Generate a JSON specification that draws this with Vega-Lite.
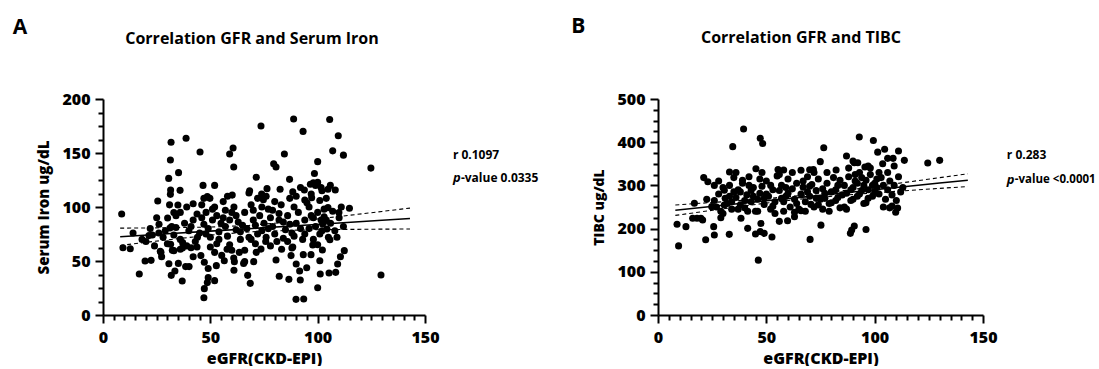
{
"$schema": "https://vega.github.io/schema/vega-lite/v6.json",
"background": "white",
"padding": {"left": 12, "top": 16, "right": 0, "bottom": 0},
"bounds": "flush",
"spacing": 233,
"config": {
  "view": {"stroke": null},
  "font": "Open Sans",
  "axis": {"domainColor": "black", "domainWidth": 2, "tickColor": "black", "tickWidth": 2, "labelFont": "Open Sans", "labelFontWeight": 800, "labelFontSize": 16, "labelColor": "black", "titleFont": "Open Sans", "titleFontWeight": 800, "titleFontSize": 16, "titleColor": "black", "grid": false, "labelFlush": false, "labelPadding": 5}
},
"datasets": {
  "iron": [
    {"egfr":88.8,"iron":181.5},{"egfr":105.6,"iron":181},{"egfr":73.6,"iron":175},{"egfr":93.2,"iron":170},{"egfr":109.6,"iron":166},{"egfr":38.7,"iron":163.6},{"egfr":31.7,"iron":160},{"egfr":60.6,"iron":154.6},{"egfr":59,"iron":149},{"egfr":45.2,"iron":151},{"egfr":107,"iron":152},{"egfr":112,"iron":148},{"egfr":84.5,"iron":149},{"egfr":31.4,"iron":143.5},{"egfr":60.9,"iron":137},{"egfr":79.5,"iron":140},{"egfr":80.6,"iron":137},{"egfr":100,"iron":142},{"egfr":98.5,"iron":131},{"egfr":124.8,"iron":136},{"egfr":129.5,"iron":37},{"egfr":35.2,"iron":131.8},{"egfr":30.6,"iron":126.5},{"egfr":71.4,"iron":127.5},{"egfr":86.9,"iron":125.6},{"egfr":46.6,"iron":120},{"egfr":52,"iron":120},{"egfr":31.5,"iron":115.7},{"egfr":35.9,"iron":115.4},{"egfr":31.4,"iron":111.7},{"egfr":25.5,"iron":105.6},{"egfr":60.2,"iron":111},{"egfr":68.3,"iron":115},{"egfr":76.4,"iron":117},{"egfr":82.5,"iron":116.4},{"egfr":88.4,"iron":114},{"egfr":93.8,"iron":115.7},{"egfr":96.6,"iron":121},{"egfr":98,"iron":122.5},{"egfr":100,"iron":122.8},{"egfr":101.6,"iron":118},{"egfr":105.9,"iron":120},{"egfr":108.2,"iron":115.7},{"egfr":104.8,"iron":116.4},{"egfr":48.6,"iron":109.6},{"egfr":49.8,"iron":108},{"egfr":73.9,"iron":112},{"egfr":74.7,"iron":106.8},{"egfr":94,"iron":106.5},{"egfr":97.2,"iron":108.6},{"egfr":34.9,"iron":101.9},{"egfr":30.1,"iron":89.8},{"egfr":33,"iron":94.8},{"egfr":8.7,"iron":93.5},{"egfr":104.8,"iron":99.4},{"egfr":114.8,"iron":98.8},{"egfr":109.9,"iron":94.8},{"egfr":42,"iron":103},{"egfr":43.8,"iron":93.5},{"egfr":26.1,"iron":84},{"egfr":31.2,"iron":80.5},{"egfr":21.4,"iron":73.5},{"egfr":14,"iron":76},{"egfr":18.2,"iron":70},{"egfr":23,"iron":74},{"egfr":9.3,"iron":62.3},{"egfr":12.7,"iron":61.4},{"egfr":19.6,"iron":50},{"egfr":22.4,"iron":50.6},{"egfr":16.9,"iron":38},{"egfr":26.7,"iron":59},{"egfr":27.3,"iron":54},{"egfr":30.7,"iron":47.5},{"egfr":31.5,"iron":65.4},{"egfr":32.3,"iron":60},{"egfr":33,"iron":59.6},{"egfr":31.8,"iron":36.7},{"egfr":33.5,"iron":40.7},{"egfr":35.1,"iron":47.8},{"egfr":36.9,"iron":31.5},{"egfr":38.5,"iron":44.8},{"egfr":40.1,"iron":44.8},{"egfr":36,"iron":60.8},{"egfr":37.1,"iron":67},{"egfr":39,"iron":64},{"egfr":41,"iron":62.3},{"egfr":43.8,"iron":63},{"egfr":42,"iron":54},{"egfr":45.6,"iron":55},{"egfr":47.2,"iron":48.8},{"egfr":49,"iron":43},{"egfr":49,"iron":34.6},{"egfr":47.2,"iron":24.4},{"egfr":47,"iron":16},{"egfr":48.6,"iron":30},{"egfr":52,"iron":31.8},{"egfr":52.8,"iron":45.7},{"egfr":55.3,"iron":55.2},{"egfr":56.5,"iron":50.3},{"egfr":57.8,"iron":60.8},{"egfr":60.9,"iron":52.8},{"egfr":61,"iron":41.4},{"egfr":61.2,"iron":49.4},{"egfr":63.5,"iron":58},{"egfr":65.5,"iron":47.8},{"egfr":66,"iron":49.4},{"egfr":67.4,"iron":36.7},{"egfr":68.6,"iron":29.3},{"egfr":70.2,"iron":49.4},{"egfr":71.4,"iron":58},{"egfr":73.6,"iron":61},{"egfr":75.8,"iron":68},{"egfr":80.6,"iron":51},{"egfr":82.1,"iron":35.8},{"egfr":83.2,"iron":60.8},{"egfr":86.6,"iron":33},{"egfr":87.6,"iron":55},{"egfr":88.4,"iron":63},{"egfr":90,"iron":47.2},{"egfr":91.6,"iron":40.7},{"egfr":91.9,"iron":32.4},{"egfr":89.9,"iron":14.5},{"egfr":93.5,"iron":14.8},{"egfr":94.9,"iron":43.8},{"egfr":93.3,"iron":55.9},{"egfr":96.9,"iron":55.9},{"egfr":97.7,"iron":64.8},{"egfr":100,"iron":25.3},{"egfr":101,"iron":50.3},{"egfr":101.2,"iron":38},{"egfr":102.2,"iron":60.2},{"egfr":105.3,"iron":38.9},{"egfr":108.4,"iron":39.5},{"egfr":109.3,"iron":47.2},{"egfr":110.6,"iron":54},{"egfr":112.4,"iron":59.6},{"egfr":105.7,"iron":69.7},{"egfr":104.3,"iron":79.6},{"egfr":102.3,"iron":84.3},{"egfr":103,"iron":91},{"egfr":101.6,"iron":88},
    {"egfr":36,"iron":70},{"egfr":38,"iron":85},{"egfr":40,"iron":78},{"egfr":42,"iron":88},{"egfr":44,"iron":72},{"egfr":36,"iron":95},{"egfr":39,"iron":100},{"egfr":41,"iron":82},{"egfr":43,"iron":68},{"egfr":45,"iron":76},{"egfr":37,"iron":62},{"egfr":34,"iron":81},{"egfr":33,"iron":74},{"egfr":46,"iron":90},{"egfr":47,"iron":84},
    {"egfr":48,"iron":95},{"egfr":49,"iron":80},{"egfr":50,"iron":72},{"egfr":51,"iron":88},{"egfr":52,"iron":100},{"egfr":53,"iron":66},{"egfr":54,"iron":77},{"egfr":46,"iron":102},{"egfr":47,"iron":108},{"egfr":50,"iron":63},{"egfr":52,"iron":58},{"egfr":53,"iron":92},{"egfr":55,"iron":85},{"egfr":54,"iron":70},{"egfr":48,"iron":75},{"egfr":51,"iron":98},
    {"egfr":56,"iron":90},{"egfr":57,"iron":82},{"egfr":58,"iron":73},{"egfr":59,"iron":65},{"egfr":60,"iron":95},{"egfr":61,"iron":100},{"egfr":62,"iron":79},{"egfr":63,"iron":86},{"egfr":64,"iron":70},{"egfr":56,"iron":105},{"egfr":58,"iron":110},{"egfr":60,"iron":60},{"egfr":62,"iron":92},{"egfr":64,"iron":77},{"egfr":65,"iron":83},{"egfr":57,"iron":97},{"egfr":59,"iron":88},
    {"egfr":66,"iron":95},{"egfr":67,"iron":80},{"egfr":68,"iron":72},{"egfr":69,"iron":102},{"egfr":70,"iron":88},{"egfr":71,"iron":66},{"egfr":72,"iron":108},{"egfr":73,"iron":92},{"egfr":74,"iron":78},{"egfr":75,"iron":85},{"egfr":66,"iron":60},{"egfr":68,"iron":113},{"egfr":70,"iron":97},{"egfr":72,"iron":75},{"egfr":74,"iron":100},{"egfr":69,"iron":70},{"egfr":71,"iron":83},
    {"egfr":76,"iron":110},{"egfr":77,"iron":98},{"egfr":78,"iron":90},{"egfr":79,"iron":82},{"egfr":80,"iron":75},{"egfr":81,"iron":68},{"egfr":82,"iron":94},{"egfr":83,"iron":102},{"egfr":84,"iron":86},{"egfr":85,"iron":79},{"egfr":76,"iron":72},{"egfr":78,"iron":64},{"egfr":80,"iron":105},{"egfr":82,"iron":88},{"egfr":84,"iron":71},{"egfr":77,"iron":80},{"egfr":79,"iron":97},
    {"egfr":86,"iron":92},{"egfr":87,"iron":84},{"egfr":88,"iron":76},{"egfr":89,"iron":100},{"egfr":90,"iron":110},{"egfr":91,"iron":95},{"egfr":92,"iron":80},{"egfr":93,"iron":70},{"egfr":94,"iron":88},{"egfr":95,"iron":104},{"egfr":86,"iron":68},{"egfr":88,"iron":62},{"egfr":90,"iron":85},{"egfr":92,"iron":118},{"egfr":94,"iron":75},{"egfr":87,"iron":108},{"egfr":89,"iron":73},
    {"egfr":96,"iron":100},{"egfr":97,"iron":112},{"egfr":98,"iron":90},{"egfr":99,"iron":82},{"egfr":100,"iron":95},{"egfr":101,"iron":106},{"egfr":102,"iron":78},{"egfr":103,"iron":98},{"egfr":104,"iron":88},{"egfr":105,"iron":72},{"egfr":96,"iron":80},{"egfr":98,"iron":70},{"egfr":100,"iron":65},{"egfr":102,"iron":115},{"egfr":104,"iron":108},{"egfr":97,"iron":92},{"egfr":99,"iron":120},{"egfr":101,"iron":75},
    {"egfr":106,"iron":85},{"egfr":108,"iron":78},{"egfr":110,"iron":90},{"egfr":112,"iron":82},{"egfr":107,"iron":96},{"egfr":109,"iron":72},{"egfr":111,"iron":100},
    {"egfr":20,"iron":68},{"egfr":22,"iron":80},{"egfr":24,"iron":64},{"egfr":26,"iron":76},{"egfr":28,"iron":72},{"egfr":30,"iron":66},{"egfr":32,"iron":82},{"egfr":34,"iron":92},{"egfr":25,"iron":90},{"egfr":29,"iron":78},{"egfr":31,"iron":102},{"egfr":27,"iron":58}
  ],
  "ironfit": [
    {"egfr":8,"fit":72.4,"lo":64.4,"hi":80.4},{"egfr":30,"fit":75.2,"lo":69.6,"hi":80.8},{"egfr":50,"fit":77.7,"lo":74.0,"hi":81.4},{"egfr":68,"fit":79.9,"lo":76.9,"hi":82.9},{"egfr":90,"fit":82.7,"lo":78.6,"hi":86.7},{"egfr":110,"fit":85.2,"lo":79.2,"hi":91.2},{"egfr":130,"fit":87.7,"lo":79.5,"hi":95.9},{"egfr":143,"fit":89.3,"lo":79.6,"hi":99.0}
  ],
  "tibc": [
    {"egfr":39.5,"tibc":430.6},{"egfr":46.3,"tibc":127},{"egfr":9.5,"tibc":160},{"egfr":8.8,"tibc":210},{"egfr":12.9,"tibc":204.5},{"egfr":22,"tibc":174},{"egfr":21.1,"tibc":318},{"egfr":23,"tibc":308.6},{"egfr":22.5,"tibc":267.7},{"egfr":34.5,"tibc":389.7},{"egfr":47.2,"tibc":409},{"egfr":48.3,"tibc":397},{"egfr":92.9,"tibc":412},{"egfr":99.4,"tibc":404},{"egfr":76.5,"tibc":387},{"egfr":87,"tibc":368},{"egfr":101.4,"tibc":377},{"egfr":104.6,"tibc":383.5},{"egfr":111,"tibc":379.6},{"egfr":113.7,"tibc":358},{"egfr":106,"tibc":362.6},{"egfr":108.5,"tibc":362.6},{"egfr":90,"tibc":356.5},{"egfr":90.6,"tibc":352.6},{"egfr":92.2,"tibc":352.6},{"egfr":74.9,"tibc":355},{"egfr":33,"tibc":331},{"egfr":45.2,"tibc":338.7},{"egfr":70,"tibc":336.4},{"egfr":71.7,"tibc":337},{"egfr":55.4,"tibc":337},{"egfr":58,"tibc":335.6},{"egfr":82.2,"tibc":335.6},{"egfr":95.5,"tibc":342.6},{"egfr":97,"tibc":345},{"egfr":103.7,"tibc":350},{"egfr":109,"tibc":345},{"egfr":106.9,"tibc":248},{"egfr":110.6,"tibc":247.7},{"egfr":109.7,"tibc":237.7},{"egfr":20.6,"tibc":220},{"egfr":25.7,"tibc":204.5},{"egfr":26,"tibc":185},{"egfr":32.9,"tibc":186.7},{"egfr":41.4,"tibc":200.6},{"egfr":45,"tibc":187.5},{"egfr":47.2,"tibc":193},{"egfr":49,"tibc":189},{"egfr":52.6,"tibc":180.6},{"egfr":70.2,"tibc":175},{"egfr":75.2,"tibc":208},{"egfr":88.8,"tibc":189},{"egfr":89.4,"tibc":196.8},{"egfr":90.6,"tibc":206},{"egfr":96,"tibc":198},{"egfr":66,"tibc":241.5},{"egfr":70.6,"tibc":256},{"egfr":63,"tibc":227.6},{"egfr":56,"tibc":216.8},{"egfr":59.8,"tibc":218},{"egfr":38.3,"tibc":223.8},{"egfr":41.4,"tibc":240},{"egfr":47.5,"tibc":212},{"egfr":29,"tibc":225},{"egfr":30.6,"tibc":254.6},{"egfr":16.8,"tibc":258.5},{"egfr":18,"tibc":223.8},{"egfr":19.8,"tibc":223.8},{"egfr":16,"tibc":223.8},{"egfr":24.8,"tibc":250.8},{"egfr":30.6,"tibc":289},{"egfr":124.5,"tibc":352},{"egfr":130,"tibc":358},
    {"egfr":26,"tibc":265},{"egfr":27,"tibc":250},{"egfr":28,"tibc":280},{"egfr":29,"tibc":240},{"egfr":30,"tibc":295},{"egfr":31,"tibc":270},{"egfr":32,"tibc":258},{"egfr":33,"tibc":300},{"egfr":34,"tibc":245},{"egfr":35,"tibc":285},{"egfr":28,"tibc":310},{"egfr":33,"tibc":275},{"egfr":35,"tibc":318},{"egfr":30,"tibc":235},{"egfr":26,"tibc":300},{"egfr":34,"tibc":262},
    {"egfr":36,"tibc":272},{"egfr":37,"tibc":290},{"egfr":38,"tibc":255},{"egfr":39,"tibc":305},{"egfr":40,"tibc":248},{"egfr":41,"tibc":278},{"egfr":42,"tibc":320},{"egfr":43,"tibc":262},{"egfr":44,"tibc":295},{"egfr":45,"tibc":240},{"egfr":36,"tibc":330},{"egfr":38,"tibc":285},{"egfr":40,"tibc":265},{"egfr":42,"tibc":300},{"egfr":44,"tibc":275},{"egfr":37,"tibc":245},{"egfr":39,"tibc":312},{"egfr":43,"tibc":288},
    {"egfr":46,"tibc":268},{"egfr":47,"tibc":282},{"egfr":48,"tibc":298},{"egfr":49,"tibc":256},{"egfr":50,"tibc":310},{"egfr":51,"tibc":275},{"egfr":52,"tibc":245},{"egfr":53,"tibc":290},{"egfr":54,"tibc":262},{"egfr":55,"tibc":322},{"egfr":46,"tibc":240},{"egfr":48,"tibc":330},{"egfr":50,"tibc":280},{"egfr":52,"tibc":300},{"egfr":54,"tibc":235},{"egfr":47,"tibc":315},{"egfr":49,"tibc":270},{"egfr":53,"tibc":252},
    {"egfr":56,"tibc":288},{"egfr":57,"tibc":300},{"egfr":58,"tibc":262},{"egfr":59,"tibc":275},{"egfr":60,"tibc":315},{"egfr":61,"tibc":250},{"egfr":62,"tibc":292},{"egfr":63,"tibc":268},{"egfr":64,"tibc":305},{"egfr":65,"tibc":245},{"egfr":56,"tibc":325},{"egfr":58,"tibc":240},{"egfr":60,"tibc":282},{"egfr":62,"tibc":330},{"egfr":64,"tibc":258},{"egfr":57,"tibc":270},{"egfr":59,"tibc":295},{"egfr":63,"tibc":238},
    {"egfr":66,"tibc":280},{"egfr":67,"tibc":296},{"egfr":68,"tibc":262},{"egfr":69,"tibc":320},{"egfr":70,"tibc":275},{"egfr":71,"tibc":302},{"egfr":72,"tibc":250},{"egfr":73,"tibc":288},{"egfr":74,"tibc":315},{"egfr":75,"tibc":268},{"egfr":66,"tibc":335},{"egfr":68,"tibc":240},{"egfr":70,"tibc":298},{"egfr":72,"tibc":330},{"egfr":74,"tibc":255},{"egfr":67,"tibc":310},{"egfr":69,"tibc":285},{"egfr":73,"tibc":270},
    {"egfr":76,"tibc":292},{"egfr":77,"tibc":270},{"egfr":78,"tibc":305},{"egfr":79,"tibc":258},{"egfr":80,"tibc":285},{"egfr":81,"tibc":318},{"egfr":82,"tibc":265},{"egfr":83,"tibc":300},{"egfr":84,"tibc":248},{"egfr":85,"tibc":278},{"egfr":76,"tibc":245},{"egfr":78,"tibc":330},{"egfr":80,"tibc":260},{"egfr":82,"tibc":290},{"egfr":84,"tibc":312},{"egfr":77,"tibc":282},{"egfr":79,"tibc":240},{"egfr":83,"tibc":272},
    {"egfr":86,"tibc":300},{"egfr":87,"tibc":282},{"egfr":88,"tibc":320},{"egfr":89,"tibc":265},{"egfr":90,"tibc":295},{"egfr":91,"tibc":310},{"egfr":92,"tibc":275},{"egfr":93,"tibc":330},{"egfr":94,"tibc":288},{"egfr":95,"tibc":258},{"egfr":86,"tibc":250},{"egfr":88,"tibc":340},{"egfr":90,"tibc":268},{"egfr":92,"tibc":305},{"egfr":94,"tibc":318},{"egfr":87,"tibc":245},{"egfr":89,"tibc":290},{"egfr":93,"tibc":280},{"egfr":91,"tibc":325},{"egfr":95,"tibc":300},
    {"egfr":96,"tibc":312},{"egfr":97,"tibc":290},{"egfr":98,"tibc":325},{"egfr":99,"tibc":275},{"egfr":100,"tibc":305},{"egfr":101,"tibc":295},{"egfr":102,"tibc":280},{"egfr":103,"tibc":318},{"egfr":104,"tibc":300},{"egfr":105,"tibc":268},{"egfr":96,"tibc":260},{"egfr":98,"tibc":340},{"egfr":100,"tibc":285},{"egfr":102,"tibc":330},{"egfr":104,"tibc":250},{"egfr":97,"tibc":270},{"egfr":99,"tibc":300},{"egfr":101,"tibc":315},
    {"egfr":106,"tibc":290},{"egfr":107,"tibc":310},{"egfr":108,"tibc":278},{"egfr":109,"tibc":300},{"egfr":110,"tibc":265},{"egfr":112,"tibc":285},{"egfr":106,"tibc":330},{"egfr":108,"tibc":252},{"egfr":111,"tibc":320},{"egfr":113,"tibc":295}
  ],
  "tibcfit": [
    {"egfr":8,"fit":242.6,"lo":230.6,"hi":254.6},{"egfr":30,"fit":254,"lo":245.8,"hi":262.2},{"egfr":50,"fit":264.3,"lo":259.1,"hi":269.5},{"egfr":68,"fit":273.5,"lo":269.5,"hi":277.5},{"egfr":90,"fit":284.9,"lo":279.1,"hi":290.7},{"egfr":110,"fit":295.2,"lo":286.3,"hi":304.1},{"egfr":130,"fit":305.5,"lo":293.1,"hi":317.9},{"egfr":143,"fit":312.1,"lo":297.4,"hi":326.8}
  ]
},
"hconcat": [
  {
    "width": 322, "height": 216,
    "resolve": {"axis": {"x": "independent", "y": "independent"}},
    "layer": [
      {
        "data": {"name": "iron"},
        "mark": {"type": "circle", "size": 50, "color": "black", "opacity": 1},
        "encoding": {
          "x": {"field": "egfr", "type": "quantitative", "scale": {"domain": [0, 150], "nice": false}, "axis": {"orient": "bottom", "title": "eGFR(CKD-EPI)", "labelPadding": 6, "values": [0,50,100,150], "tickSize": 8, "titlePadding": 5}},
          "y": {"field": "iron", "type": "quantitative", "scale": {"domain": [0, 200], "nice": false}, "axis": {"orient": "left", "title": "Serum Iron ug/dL", "titleFontSize": 15, "values": [0,50,100,150,200], "tickSize": 8, "titlePadding": 10}}
        }
      },
      {
        "data": {"name": "ironfit"},
        "mark": {"type": "line", "color": "black", "strokeWidth": 1.6},
        "encoding": {
          "x": {"field": "egfr", "type": "quantitative", "axis": {"orient": "bottom", "title": null, "labels": false, "domain": false, "tickSize": 5, "values": [5,10,15,20,25,30,35,40,45,55,60,65,70,75,80,85,90,95,105,110,115,120,125,130,135,140,145]}},
          "y": {"field": "fit", "type": "quantitative", "axis": {"orient": "left", "title": null, "labels": false, "domain": false, "tickSize": 5, "values": [12.5,25,37.5,62.5,75,87.5,112.5,125,137.5,162.5,175,187.5]}}
        }
      },
      {
        "data": {"name": "ironfit"},
        "mark": {"type": "line", "color": "black", "strokeWidth": 1.1, "strokeDash": [4, 3]},
        "encoding": {"x": {"field": "egfr", "type": "quantitative", "axis": null}, "y": {"field": "lo", "type": "quantitative", "axis": null}}
      },
      {
        "data": {"name": "ironfit"},
        "mark": {"type": "line", "color": "black", "strokeWidth": 1.1, "strokeDash": [4, 3]},
        "encoding": {"x": {"field": "egfr", "type": "quantitative", "axis": null}, "y": {"field": "hi", "type": "quantitative", "axis": null}}
      },
      {
        "data": {"values": [{"label": "A"}]},
        "mark": {"type": "text", "font": "Open Sans", "fontWeight": "bold", "fontSize": 21, "align": "left", "baseline": "middle", "color": "black"},
        "encoding": {"x": {"datum": -42, "axis": null}, "y": {"datum": 266, "axis": null}, "text": {"field": "label"}}
      },
      {
        "data": {"values": [{"label": "Correlation GFR and Serum Iron"}]},
        "mark": {"type": "text", "font": "Open Sans", "fontWeight": "bold", "fontSize": 16, "align": "center", "baseline": "middle", "color": "black"},
        "encoding": {"x": {"datum": 69.4, "axis": null}, "y": {"datum": 256, "axis": null}, "text": {"field": "label"}}
      },
      {
        "data": {"values": [{"label": "r  0.1097"}]},
        "mark": {"type": "text", "font": "Open Sans", "fontWeight": "bold", "fontSize": 12, "align": "left", "baseline": "middle", "color": "black"},
        "encoding": {"x": {"datum": 163, "axis": null}, "y": {"datum": 148, "axis": null}, "text": {"field": "label"}}
      },
      {
        "data": {"values": [{"label": "p"}]},
        "mark": {"type": "text", "font": "Open Sans", "fontWeight": "bold", "fontStyle": "italic", "fontSize": 13, "align": "left", "baseline": "middle", "color": "black"},
        "encoding": {"x": {"datum": 163, "axis": null}, "y": {"datum": 127, "axis": null}, "text": {"field": "label"}}
      },
      {
        "data": {"values": [{"label": "-value 0.0335"}]},
        "mark": {"type": "text", "font": "Open Sans", "fontWeight": "bold", "fontSize": 12, "align": "left", "baseline": "middle", "color": "black", "dx": 8},
        "encoding": {"x": {"datum": 163, "axis": null}, "y": {"datum": 127, "axis": null}, "text": {"field": "label"}}
      }
    ]
  },
  {
    "width": 325, "height": 216,
    "resolve": {"axis": {"x": "independent", "y": "independent"}},
    "layer": [
      {
        "data": {"name": "tibc"},
        "mark": {"type": "circle", "size": 50, "color": "black", "opacity": 1},
        "encoding": {
          "x": {"field": "egfr", "type": "quantitative", "scale": {"domain": [0, 150], "nice": false}, "axis": {"orient": "bottom", "title": "eGFR(CKD-EPI)", "labelPadding": 6, "values": [0,50,100,150], "tickSize": 8, "titlePadding": 5}},
          "y": {"field": "tibc", "type": "quantitative", "scale": {"domain": [0, 500], "nice": false}, "axis": {"orient": "left", "title": "TIBC ug/dL", "titleFontSize": 14, "values": [0,100,200,300,400,500], "tickSize": 8, "titlePadding": 10}}
        }
      },
      {
        "data": {"name": "tibcfit"},
        "mark": {"type": "line", "color": "black", "strokeWidth": 1.6},
        "encoding": {
          "x": {"field": "egfr", "type": "quantitative", "axis": {"orient": "bottom", "title": null, "labels": false, "domain": false, "tickSize": 5, "values": [5,10,15,20,25,30,35,40,45,55,60,65,70,75,80,85,90,95,105,110,115,120,125,130,135,140,145]}},
          "y": {"field": "fit", "type": "quantitative", "axis": {"orient": "left", "title": null, "labels": false, "domain": false, "tickSize": 5, "values": [25,50,75,125,150,175,225,250,275,325,350,375,425,450,475]}}
        }
      },
      {
        "data": {"name": "tibcfit"},
        "mark": {"type": "line", "color": "black", "strokeWidth": 1.1, "strokeDash": [4, 3]},
        "encoding": {"x": {"field": "egfr", "type": "quantitative", "axis": null}, "y": {"field": "lo", "type": "quantitative", "axis": null}}
      },
      {
        "data": {"name": "tibcfit"},
        "mark": {"type": "line", "color": "black", "strokeWidth": 1.1, "strokeDash": [4, 3]},
        "encoding": {"x": {"field": "egfr", "type": "quantitative", "axis": null}, "y": {"field": "hi", "type": "quantitative", "axis": null}}
      },
      {
        "data": {"values": [{"label": "B"}]},
        "mark": {"type": "text", "font": "Open Sans", "fontWeight": "bold", "fontSize": 21, "align": "left", "baseline": "middle", "color": "black"},
        "encoding": {"x": {"datum": -40, "axis": null}, "y": {"datum": 666, "axis": null}, "text": {"field": "label"}}
      },
      {
        "data": {"values": [{"label": "Correlation GFR and TIBC"}]},
        "mark": {"type": "text", "font": "Open Sans", "fontWeight": "bold", "fontSize": 16, "align": "center", "baseline": "middle", "color": "black"},
        "encoding": {"x": {"datum": 66, "axis": null}, "y": {"datum": 641, "axis": null}, "text": {"field": "label"}}
      },
      {
        "data": {"values": [{"label": "r  0.283"}]},
        "mark": {"type": "text", "font": "Open Sans", "fontWeight": "bold", "fontSize": 12, "align": "left", "baseline": "middle", "color": "black"},
        "encoding": {"x": {"datum": 161, "axis": null}, "y": {"datum": 370, "axis": null}, "text": {"field": "label"}}
      },
      {
        "data": {"values": [{"label": "p"}]},
        "mark": {"type": "text", "font": "Open Sans", "fontWeight": "bold", "fontStyle": "italic", "fontSize": 13, "align": "left", "baseline": "middle", "color": "black"},
        "encoding": {"x": {"datum": 161, "axis": null}, "y": {"datum": 313, "axis": null}, "text": {"field": "label"}}
      },
      {
        "data": {"values": [{"label": "-value <0.0001"}]},
        "mark": {"type": "text", "font": "Open Sans", "fontWeight": "bold", "fontSize": 11.5, "align": "left", "baseline": "middle", "color": "black", "dx": 8},
        "encoding": {"x": {"datum": 161, "axis": null}, "y": {"datum": 313, "axis": null}, "text": {"field": "label"}}
      }
    ]
  }
],
"resolve": {"scale": {"x": "independent", "y": "independent"}}
}
